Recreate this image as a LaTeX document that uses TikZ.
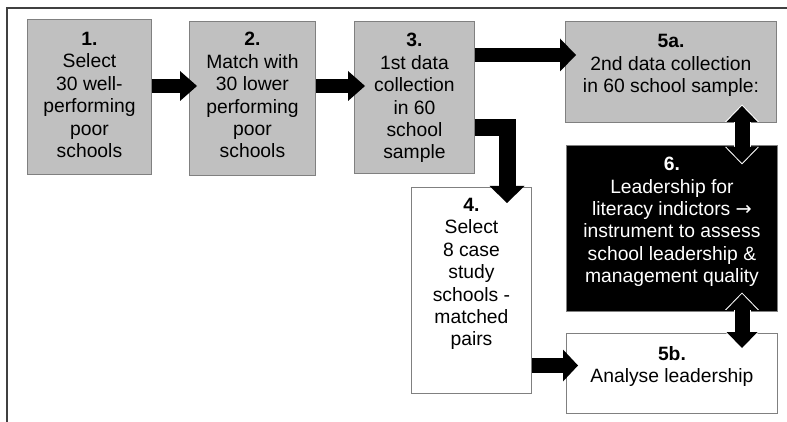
\documentclass[tikz,border=0pt]{standalone}
\usepackage{fontspec}
\setmainfont{Liberation Sans}
\newfontfamily\symfont{DejaVu Sans}
\usetikzlibrary{positioning,arrows.meta}
\definecolor{boxgrey}{HTML}{C0C0C0}
\definecolor{edgegrey}{HTML}{808080}
\definecolor{framegrey}{HTML}{404040}
\begin{document}
\begin{tikzpicture}[x=1pt,y=-1pt,
  box/.style={draw=edgegrey,line width=0.9pt,anchor=north west,inner sep=0pt},
  gbox/.style={box,fill=boxgrey},
  wbox/.style={box,fill=white},
  bbox/.style={box,fill=black},
  txt/.style={align=center,inner sep=0pt,font=\fontsize{19.3}{22.4}\selectfont},
  blk/.style={line width=14pt,black,-{Triangle[length=17pt,width=30pt,line width=0pt]}},
  dbl/.style={line width=15pt,black,{Triangle[length=16pt,width=31pt,line width=0pt]}-{Triangle[length=16pt,width=31pt,line width=0pt]}},
  halo/.style={line width=17pt,white,{Triangle[length=17.4pt,width=33.9pt,line width=0pt]}-{Triangle[length=17.4pt,width=33.9pt,line width=0pt]}}]
\useasboundingbox (0,0) rectangle (787,422);
\draw[framegrey,line width=1.6pt] (7,422) -- (7,8) -- (787,8);
% boxes
\node[gbox,minimum width=124pt,minimum height=155pt] (s1) at (27,19) {};
\node[gbox,minimum width=126pt,minimum height=154pt] (s2) at (189,21) {};
\node[gbox,minimum width=120pt,minimum height=152pt] (s3) at (354,21) {};
\node[wbox,minimum width=120pt,minimum height=206pt] (s4) at (411,187) {};
\node[gbox,minimum width=211pt,minimum height=101pt] (s5a) at (565,21) {};
\node[bbox,minimum width=211pt,minimum height=166pt] (s6) at (566,145) {};
\node[wbox,minimum width=211pt,minimum height=80pt] (s5b) at (566,333) {};
% texts
\node[txt,below=13pt of s1.north] (t1) {\textbf{1.}\\Select\\30 well-\\performing\\poor\\schools};
\node[txt,below=11.3pt of s2.north] (t2) {\textbf{2.}\\Match with\\30 lower\\performing\\poor\\schools};
\node[txt,below=12.3pt of s3.north] (t3) {\textbf{3.}\\1st data\\collection\\in 60\\school\\sample};
\node[txt,below=11pt of s4.north] (t4) {\textbf{4.}\\Select\\8 case\\study\\schools -\\matched\\pairs};
\node[txt,below=13.5pt of s5a.north] (t5a) {\textbf{5a.}\\2nd data collection\\in 60 school sample:};
\node[txt,white,below=12pt of s6.north] (t6) {\textbf{6.}\\Leadership for\\literacy indictors {\symfont →}\\instrument to assess\\school leadership \&\\management quality};
\node[txt,below=13pt of s5b.north] (t5b) {\textbf{5b.}\\Analyse leadership};
% arrows
\draw[blk,shorten >=-8pt] (s1.east |- 0,86) -- (s2.west |- 0,86);
\draw[blk,shorten >=-11pt] (s2.east |- 0,86) -- (s3.west |- 0,86);
\draw[blk,line width=14pt,-{Triangle[length=16pt,width=33pt,line width=0pt]},shorten >=-11pt] (s3.east |- 0,55) -- (s5a.west |- 0,55);
\draw[blk,line width=17pt,-{Triangle[length=17pt,width=35pt,line width=0pt]},shorten >=-16pt] (s3.east |- 0,127.5) -| (507,0 |- s4.north);
\draw[blk,line width=15pt,-{Triangle[length=15pt,width=32pt,line width=0pt]},shorten >=-12pt] (s4.east |- 0,365.5) -- (s5b.west |- 0,365.5);
\draw[halo,shorten <=-18.4pt,shorten >=-19.4pt] (s5a.south -| 742,0) -- (s6.north -| 742,0);
\draw[dbl,shorten <=-17pt,shorten >=-18pt] (s5a.south -| 742,0) -- (s6.north -| 742,0);
\draw[halo,shorten <=-19.4pt,shorten >=-16.4pt] (s6.south -| 742,0) -- (s5b.north -| 742,0);
\draw[dbl,shorten <=-18pt,shorten >=-15pt] (s6.south -| 742,0) -- (s5b.north -| 742,0);
\end{tikzpicture}
\end{document}
